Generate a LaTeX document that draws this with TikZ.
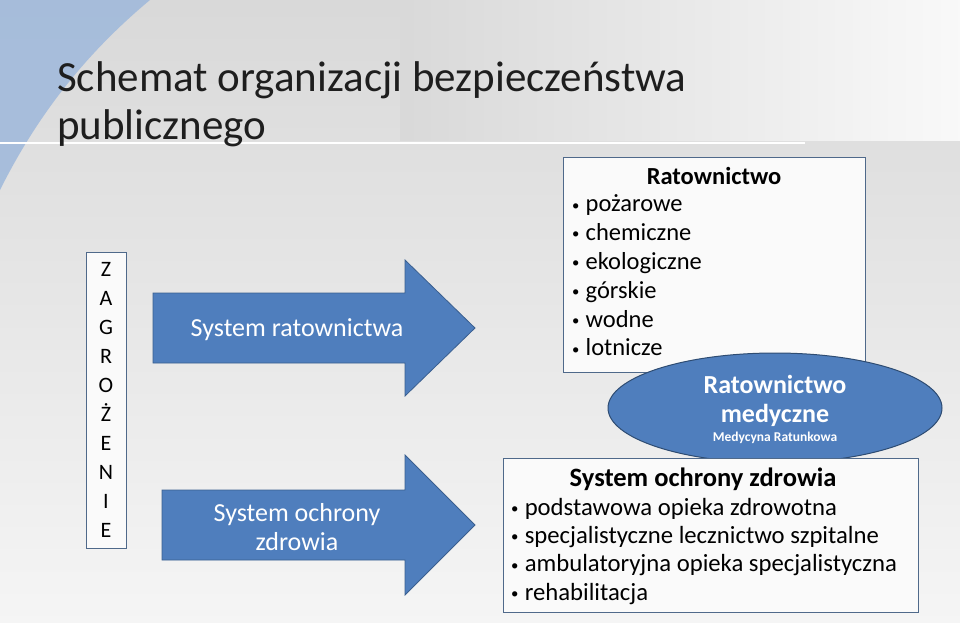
\documentclass[tikz,border=0pt]{standalone}
\usepackage{fontspec}
\setmainfont{Carlito}
\usetikzlibrary{positioning}
\definecolor{slideblue}{HTML}{4F7EBD}
\definecolor{edgeblue}{HTML}{3A5F8F}
\definecolor{titlecol}{HTML}{1E1E1E}
\newcommand{\bul}{\raisebox{0.15ex}{\scalebox{0.6}{\textbullet}}\hspace{0.25em}}
\begin{document}
\begin{tikzpicture}[x=1pt,y=-1pt]
\tikzstyle{panel}=[draw=edgeblue!70!gray,fill=white!96!gray,line width=0.8pt];
\tikzstyle{item}=[anchor=base west,inner sep=0pt,font=\fontsize{24.5}{26}\selectfont];
\tikzstyle{bigitem}=[anchor=base west,inner sep=0pt,font=\fontsize{24.7}{26}\selectfont];
\tikzstyle{arrowtxt}=[text=white,align=center,font=\fontsize{26}{29}\selectfont];
\useasboundingbox (0,0) rectangle (960,622);
% background
\shade[top color=gray!30,bottom color=gray!8] (0,0) rectangle (960,622);
\shade[left color=gray!30,right color=gray!5] (400,0) rectangle (960,140);
\fill[slideblue!55!white,opacity=0.85] (0,0) -- (150,0) .. controls (90,50) and (40,110) .. (0,190) -- cycle;
\draw[white,line width=1.5pt] (0,143) -- (805,143);
% title
\node[anchor=west,inner sep=0pt,text=titlecol,align=left,font=\fontsize{43}{48}\selectfont] (title) at (57,104) {Schemat organizacji bezpieczeństwa\\publicznego};
% threats column
\node[panel,minimum width=40pt,minimum height=296pt,inner sep=0pt,align=center,font=\fontsize{22}{29}\selectfont] (zagr) at (106,400) {Z\\A\\G\\R\\O\\Ż\\E\\N\\I\\E};
% arrows
\filldraw[fill=slideblue,draw=edgeblue,line width=0.8pt] (153,293) -- (405,293) -- (405,260) -- (475,328) -- (405,396) -- (405,363) -- (153,363) -- cycle;
\node[arrowtxt] (sysrat) at (297,330) {System ratownictwa};
\filldraw[fill=slideblue,draw=edgeblue,line width=0.8pt] (162,490) -- (405,490) -- (405,455) -- (475,525) -- (405,595) -- (405,560) -- (162,560) -- cycle;
\node[arrowtxt] (sysoz) at (297,527) {System ochrony\\zdrowia};
% rescue box
\node[panel,minimum width=302pt,minimum height=215pt,inner sep=0pt] (ratbox) at (714,264.5) {};
\node[inner sep=0pt,font=\bfseries\fontsize{24.5}{26}\selectfont] (rattitle) at (714,176) {Ratownictwo};
\foreach \t [count=\i] in {pożarowe,chemiczne,ekologiczne,górskie,wodne,lotnicze}
  \node[item] (r\i) at (572,183+\i*28.8) {\bul\t};
% medical ellipse
\filldraw[fill=slideblue,draw=edgeblue!80!black,line width=1pt] (775,408) ellipse (167 and 55);
\node[text=white,align=center,inner sep=0pt,font=\bfseries\fontsize{26}{29}\selectfont] (med) at (775,401) {Ratownictwo\\medyczne};
\node[text=white,inner sep=0pt,font=\bfseries\fontsize{13.5}{14}\selectfont] (medsub) at (775,438) {Medycyna Ratunkowa};
% health box
\node[panel,minimum width=415pt,minimum height=154pt,inner sep=0pt] (ozbox) at (710.5,535) {};
\node[inner sep=0pt,font=\bfseries\fontsize{26.5}{28}\selectfont] (oztitle) at (703,479) {System ochrony zdrowia};
\foreach \t [count=\i] in {podstawowa opieka zdrowotna,specjalistyczne lecznictwo szpitalne,ambulatoryjna opieka specjalistyczna,rehabilitacja}
  \node[bigitem] (z\i) at (511,487+\i*28.3) {\bul\t};
\end{tikzpicture}
\end{document}
